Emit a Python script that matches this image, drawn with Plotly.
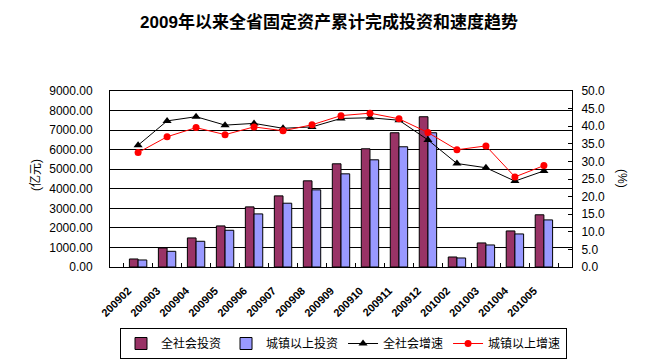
import plotly.graph_objects as go

categories = ["200902", "200903", "200904", "200905", "200906", "200907", "200908",
              "200909", "200910", "200911", "200912", "201002", "201003", "201004", "201005"]
total_invest = [410, 973, 1486, 2100, 3074, 3637, 4406, 5277, 6045, 6865, 7684, 512, 1230, 1844, 2670]
urban_invest = [359, 803, 1315, 1878, 2715, 3262, 3945, 4764, 5482, 6148, 6865, 461, 1127, 1690, 2408]
total_growth = [34.6, 41.5, 42.7, 40.3, 40.8, 39.4, 39.8, 42.2, 42.4, 41.7, 36.1, 29.4, 28.2, 24.4, 27.3]
urban_growth = [32.5, 37.0, 39.6, 37.6, 39.8, 38.7, 40.4, 43.0, 43.7, 42.1, 38.2, 33.3, 34.4, 25.6, 28.8]

FONT = "Arial, Liberation Sans, Noto Sans CJK SC, sans-serif"

# page body adds an 8px offset; layout below is in figure pixels
OFF = 8
W, H = 655, 361
PL, PR, PT, PB = 110 - OFF, 572 - OFF, 91 - OFF, 267 - OFF  # plot box in figure px

fig = go.Figure()
fig.add_trace(go.Bar(x=categories, y=total_invest, name="全社会投资",
                     marker=dict(color="#993366", line=dict(color="black", width=1))))
fig.add_trace(go.Bar(x=categories, y=urban_invest, name="城镇以上投资",
                     marker=dict(color="#9999FF", line=dict(color="black", width=1))))
fig.add_trace(go.Scatter(x=categories, y=total_growth, name="全社会增速", yaxis="y2",
                         mode="lines+markers",
                         line=dict(color="black", width=1),
                         marker=dict(symbol="triangle-up", size=8, color="black")))
fig.add_trace(go.Scatter(x=categories, y=urban_growth, name="城镇以上增速", yaxis="y2",
                         mode="lines+markers",
                         line=dict(color="red", width=1),
                         marker=dict(symbol="circle", size=7, color="red")))

pw, ph = PR - PL, PB - PT


def px(x):
    return (x - OFF - PL) / pw


def py(y):
    return (PB - (y - OFF)) / ph


fig.update_layout(
    width=W, height=H,
    margin=dict(l=PL, r=W - PR, t=PT, b=H - PB, autoexpand=False),
    paper_bgcolor="white", plot_bgcolor="white",
    font=dict(family=FONT, size=12, color="black"),
    bargap=0.4, bargroupgap=0,
    title=dict(text="2009年以来全省固定资产累计完成投资和速度趋势",
               x=(329 - OFF) / W, xanchor="center", y=1 - (22 - OFF) / H, yanchor="middle",
               font=dict(size=17, weight="bold", family=FONT)),
    xaxis=dict(type="category", showline=True, linecolor="black", linewidth=1, mirror=True,
               ticks="inside", tickson="boundaries", ticklen=4, tickcolor="black",
               tickangle=-45, tickfont=dict(size=11, weight="bold"), showgrid=False,
               ticklabelstandoff=12, ticklabelshift=-10),
    yaxis=dict(range=[0, 9000], dtick=1000, tickformat=".2f", showgrid=True,
               gridcolor="black", gridwidth=1, showline=True, linecolor="black",
               mirror=True, zeroline=False, tickfont=dict(size=12), ticks="",
               ticklabelstandoff=14),
    yaxis2=dict(range=[0, 50], dtick=5, tickformat=".1f", overlaying="y", side="right",
                showgrid=False, zeroline=False, showline=True, linecolor="black",
                ticks="inside", ticklen=4, tickcolor="black", tickfont=dict(size=12),
                ticklabelstandoff=6),
    legend=dict(orientation="h", x=px(343.5), xanchor="center", y=py(328), yanchor="top",
                bordercolor="black", borderwidth=1, font=dict(size=12),
                itemwidth=30, tracegroupgap=0),
    annotations=[
        dict(text="(亿元)", x=px(35), y=py(175), xref="paper", yref="paper", showarrow=False,
             xanchor="center", yanchor="middle", textangle=-90, font=dict(size=12)),
        dict(text="(%)", x=px(622), y=py(178), xref="paper", yref="paper", showarrow=False,
             xanchor="center", yanchor="middle", textangle=90, font=dict(size=12)),
    ],
)

fig.write_html("out.html")
